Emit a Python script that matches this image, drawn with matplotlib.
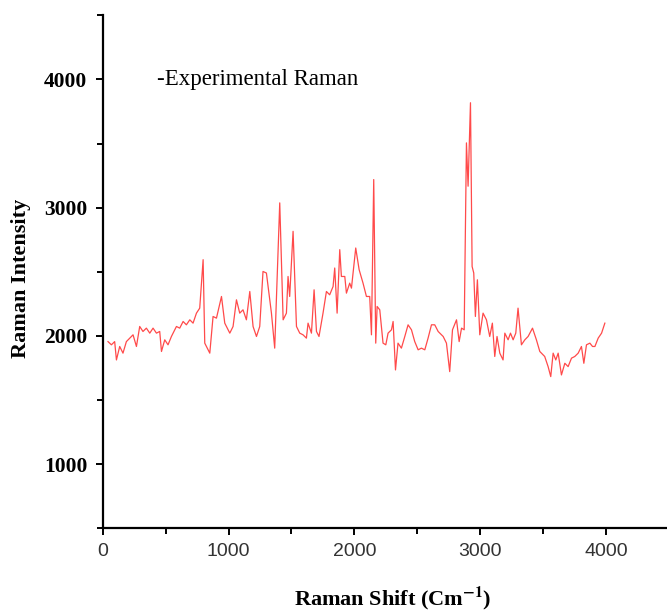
import matplotlib.pyplot as plt
from matplotlib.ticker import MultipleLocator

# Raman shift (cm-1) and intensity
shift = [42, 69, 95, 109, 135, 161, 188, 215, 241, 268, 294, 320, 347, 374, 400,
         427, 453, 467, 493, 519, 546, 586, 612, 639, 665, 692, 718, 745, 771, 798,
         811, 851, 877, 904, 944, 970, 1010, 1036, 1063, 1089, 1115, 1142, 1169,
         1195, 1222, 1248, 1274, 1301, 1341, 1367, 1407, 1434, 1460, 1473, 1486,
         1513, 1540, 1566, 1592, 1619, 1632, 1659, 1680, 1699, 1719, 1751, 1778,
         1804, 1831, 1844, 1863, 1884, 1897, 1924, 1937, 1963, 1977, 2011, 2038,
         2069, 2096, 2122, 2136, 2154, 2170, 2181, 2202, 2228, 2250, 2268, 2295,
         2308, 2327, 2347, 2374, 2401, 2427, 2454, 2480, 2507, 2533, 2560, 2586,
         2613, 2639, 2666, 2706, 2732, 2758, 2780, 2812, 2833, 2852, 2873, 2891,
         2904, 2923, 2936, 2949, 2962, 2978, 2997, 3023, 3050, 3076, 3097, 3116,
         3134, 3156, 3182, 3196, 3222, 3241, 3262, 3283, 3301, 3328, 3355, 3381,
         3416, 3447, 3474, 3513, 3540, 3561, 3580, 3601, 3620, 3646, 3673, 3699,
         3726, 3752, 3779, 3805, 3824, 3845, 3872, 3893, 3912, 3938, 3965, 3991]
intensity = [1955, 1930, 1955, 1812, 1917, 1865, 1955, 1982, 2008, 1917, 2073, 2034,
             2060, 2021, 2060, 2021, 2034, 1878, 1969, 1930, 1995, 2073, 2060, 2112,
             2086, 2125, 2099, 2177, 2216, 2594, 1943, 1865, 2151, 2138, 2307, 2099,
             2021, 2073, 2281, 2177, 2203, 2125, 2346, 2073, 1995, 2073, 2502, 2490,
             2177, 1904, 3037, 2125, 2177, 2463, 2307, 2815, 2073, 2021, 2008, 1982,
             2099, 2021, 2359, 2034, 1995, 2177, 2346, 2320, 2385, 2529, 2177, 2672,
             2463, 2463, 2333, 2411, 2372, 2685, 2516, 2411, 2307, 2307, 2008, 3219,
             1943, 2229, 2203, 1943, 1930, 2021, 2047, 2112, 1734, 1943, 1904, 1995,
             2086, 2047, 1955, 1891, 1904, 1891, 1982, 2086, 2086, 2034, 1995, 1943,
             1721, 2047, 2125, 1955, 2060, 2047, 3505, 3167, 3818, 2541, 2490, 2151,
             2437, 2008, 2177, 2125, 1995, 2099, 1839, 1995, 1865, 1812, 2021, 1969,
             2021, 1969, 2021, 2216, 1930, 1969, 1995, 2060, 1969, 1878, 1839, 1760,
             1682, 1865, 1812, 1865, 1695, 1786, 1760, 1826, 1839, 1865, 1917, 1786,
             1930, 1943, 1917, 1917, 1982, 2021, 2099]

x_ticks = [0, 1000, 2000, 3000, 4000]
y_ticks = [1000, 2000, 3000, 4000]

plt.rcParams['mathtext.fontset'] = 'stix'

fig = plt.figure(figsize=(6.67, 6.12), dpi=100)
ax = fig.add_axes([0.154, 0.137, 0.846, 0.838])

ax.plot(shift, intensity, color='#ff4a4a', lw=0.9)

ax.set_xlim(0, 4485)
ax.set_ylim(500, 4500)
ax.set_xticks(x_ticks)
ax.set_yticks(y_ticks)
ax.xaxis.set_minor_locator(MultipleLocator(500))
ax.yaxis.set_minor_locator(MultipleLocator(500))

for s in ['top', 'right']:
    ax.spines[s].set_visible(False)
for s in ['left', 'bottom']:
    ax.spines[s].set_linewidth(1.6)

ax.tick_params(which='major', direction='out', length=5, width=1.4)
ax.tick_params(which='minor', direction='out', length=4, width=1.4)
ax.tick_params(axis='x', labelsize=14, labelcolor='#333333', pad=6)
ax.tick_params(axis='y', pad=6)
for lbl in ax.get_xticklabels():
    lbl.set_family('Liberation Sans')
for lbl in ax.get_yticklabels():
    lbl.set_family('Liberation Serif')
    lbl.set_fontweight('bold')
    lbl.set_fontsize(15.5)

ax.set_xlabel(r'Raman Shift (Cm$^{\mathbf{-1}}$)', family='Liberation Serif',
              fontweight='bold', fontsize=16)
ax.xaxis.set_label_coords(0.514, -0.11)
ax.set_ylabel('Raman Intensity', family='Liberation Serif',
              fontweight='bold', fontsize=16)
ax.yaxis.set_label_coords(-0.127, 0.487)

ax.text(430, 4000, '-Experimental Raman', family='Liberation Serif',
        fontsize=16.5, va='center', ha='left')

fig.savefig('out.png', dpi=100)
